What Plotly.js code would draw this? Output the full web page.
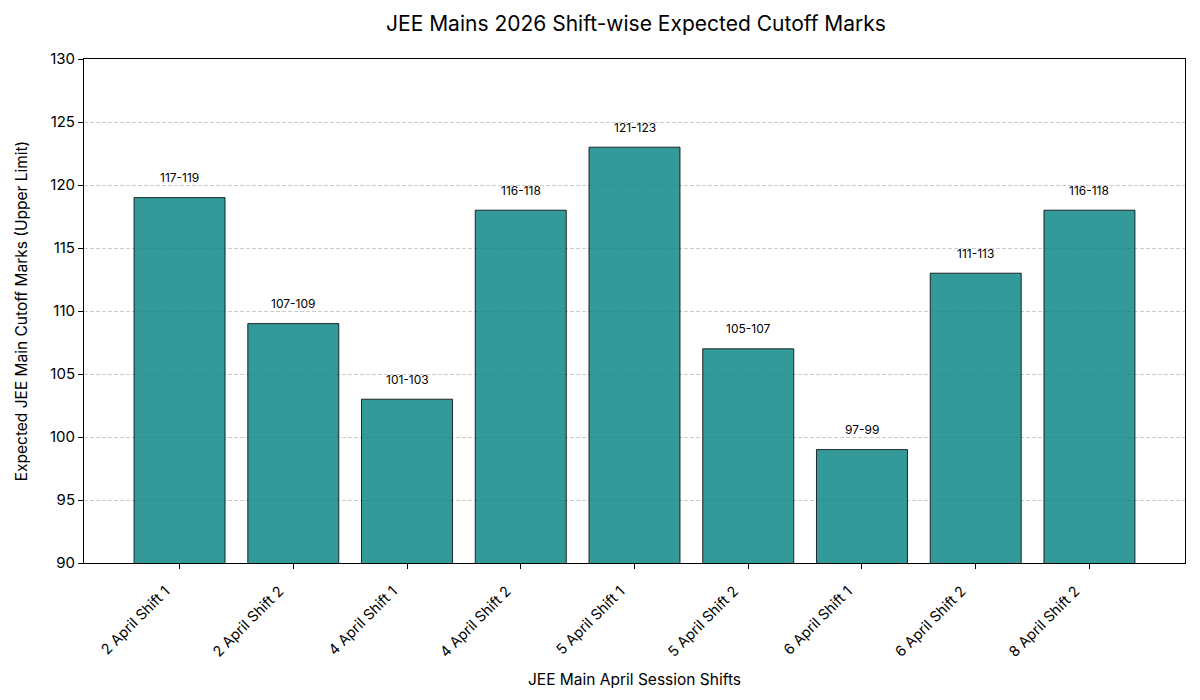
<!DOCTYPE html>
<html>
<head>
<meta charset="utf-8">
<script src="https://cdn.plot.ly/plotly-3.0.1.min.js"></script>
<style>html,body{margin:0;padding:0;background:#fff;}#chart{width:1200px;height:700px;}</style>
</head>
<body>
<div id="chart"></div>
<script>
const shifts = ["2 April Shift 1","2 April Shift 2","4 April Shift 1","4 April Shift 2","5 April Shift 1","5 April Shift 2","6 April Shift 1","6 April Shift 2","8 April Shift 2"];
const upperLimit = [119,109,103,118,123,107,99,113,118];
const rangeLabels = ["117-119","107-109","101-103","116-118","121-123","105-107","97-99","111-113","116-118"];

const FONT = "Inter, 'Open Sans', sans-serif";
const xIdx = shifts.map((_, i) => i);

const trace = {
  type: "bar",
  x: xIdx,
  y: upperLimit,
  width: 0.8,
  marker: {color: "rgba(0,128,128,0.8)", line: {color: "rgba(0,0,0,0.8)", width: 1}},
  hoverinfo: "skip"
};

const annotations = xIdx.map((i) => ({
  x: i, y: upperLimit[i] + 1, xref: "x", yref: "y",
  text: rangeLabels[i], showarrow: false, yanchor: "bottom", yshift: -2,
  font: {family: FONT, size: 12, color: "#000"}
}));

const layout = {
  width: 1200, height: 700,
  margin: {l: 84, r: 15, t: 59, b: 137},
  paper_bgcolor: "#fff", plot_bgcolor: "#fff",
  title: {text: "JEE Mains 2026 Shift-wise Expected Cutoff Marks", x: 0.53, xanchor: "center", y: 0.966, yanchor: "middle", font: {family: FONT, size: 21, color: "#000"}},
  xaxis: {
    range: [-0.84, 8.84], tickmode: "array", tickvals: xIdx, ticktext: shifts,
    tickangle: -45, ticks: "outside", ticklen: 5, tickcolor: "#000",
    ticklabelshift: -14, ticklabelstandoff: 8,
    showline: true, linecolor: "#000", linewidth: 1, mirror: true,
    showgrid: false, zeroline: false,
    tickfont: {family: FONT, size: 14.5, color: "#000"},
    title: {text: "JEE Main April Session Shifts", font: {family: FONT, size: 15.5, color: "#000"}, standoff: 14}
  },
  yaxis: {
    range: [90, 130], dtick: 5, ticks: "outside", ticklen: 5, tickcolor: "#000",
    showline: true, linecolor: "#000", linewidth: 1, mirror: true,
    showgrid: true, gridcolor: "#cccccc", griddash: "4px,2px", gridwidth: 1,
    zeroline: false,
    tickfont: {family: FONT, size: 15, color: "#000"},
    title: {text: "Expected JEE Main Cutoff Marks (Upper Limit)", font: {family: FONT, size: 15.5, color: "#000"}, standoff: 18}
  },
  annotations: annotations,
  showlegend: false,
  bargap: 0.2
};

Plotly.newPlot("chart", [trace], layout, {displayModeBar: false, staticPlot: true});
</script>
</body>
</html>
